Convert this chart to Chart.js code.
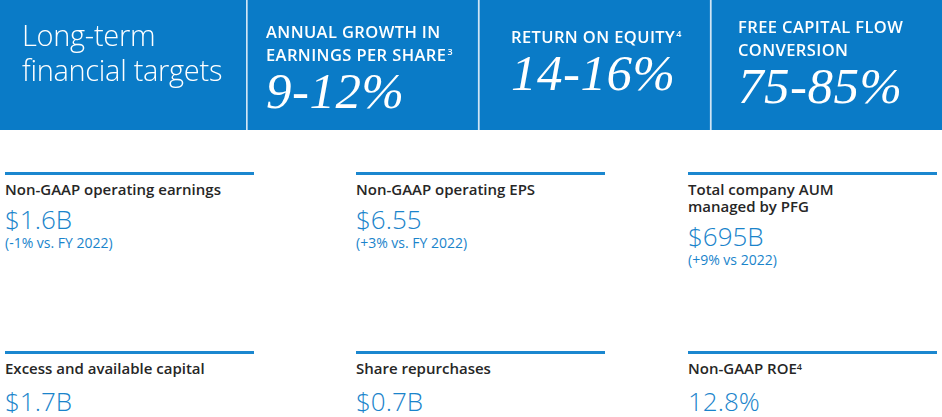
<!DOCTYPE html>
<html><head><meta charset="utf-8">
<script src="https://cdn.jsdelivr.net/npm/chart.js@4.4.1/dist/chart.umd.min.js"></script>
<style>
html,body{margin:0;padding:0}
body{width:942px;height:417px;overflow:hidden;background:#fff;font-family:"Open Sans",Lato,sans-serif;position:relative}
#hdr{position:absolute;left:0;top:0;width:942px;height:130px;background:#0a7bc7}
#title{position:absolute;left:22px;top:17px;color:#fff;font-weight:300;font-size:29px;line-height:35px;letter-spacing:-0.3px;white-space:nowrap}
.tgt{position:absolute;color:#fff;white-space:nowrap}
.tgt .lab{font-weight:600;font-size:16.5px;line-height:23px;letter-spacing:0.4px}
.tgt .lab sup{font-size:9px;vertical-align:top;position:relative;top:-3px;margin-left:1px}
.tgt .val{font-family:"Liberation Serif","DejaVu Serif",serif;font-style:italic;font-size:51px;line-height:48px;margin-top:1px;letter-spacing:0.5px}
.kpi{position:absolute;width:249px;border-top:3px solid #1b87cf;padding-top:6px}
.kpi .lab{font-weight:600;font-size:15px;line-height:17px;color:#262626}
.kpi .lab sup{font-size:9px;vertical-align:top;position:relative;top:-2px}
.kpi .val{font-weight:300;font-size:26px;line-height:30px;color:#1a84cb;margin-top:6px}
.kpi .chg{font-size:14px;line-height:18px;color:#1a84cb}
.row2 .val{margin-top:9px}
</style></head><body>
<div id="hdr"><canvas id="c"></canvas></div>
<div id="title">Long-term<br>financial targets</div>
<div id="targets"></div>
<div id="kpis"></div>
<script>
// ---- data ----
const headerTitle = ['Long-term', 'financial targets'];
const targetTitles = [['ANNUAL GROWTH IN', 'EARNINGS PER SHARE'], ['RETURN ON EQUITY'], ['FREE CAPITAL FLOW', 'CONVERSION']];
const targetNotes = ['3', '4', ''];
const targetLow = [9, 14, 75];
const targetHigh = [12, 16, 85];
const cellFill = [1, 1, 1];

const kpiLabels = [['Non-GAAP operating earnings'], ['Non-GAAP operating EPS'], ['Total company AUM', 'managed by PFG'],
                   ['Excess and available capital'], ['Share repurchases'], ['Non-GAAP ROE']];
const kpiNotes = ['', '', '', '', '', '4'];
const kpiValues = ['$1.6B', '$6.55', '$695B', '$1.7B', '$0.7B', '12.8%'];
const kpiChanges = ['(-1% vs. FY 2022)', '(+3% vs. FY 2022)', '(+9% vs 2022)', '', '', ''];

// ---- layout (not data) ----
const tgtTops = [20, 25, 15];
const tgtInset = [20, 33, 28];
const kpiLefts = [5, 356, 688];
const kpiTops = [172, 351];

document.getElementById('title').innerHTML = headerTitle.join('<br>');

const tWrap = document.getElementById('targets');
const tEls = targetTitles.map((lines, i) => {
  const d = document.createElement('div');
  d.className = 'tgt';
  d.style.top = tgtTops[i] + 'px';
  const last = lines.length - 1;
  d.innerHTML = '<div class="lab">' + lines.map((l, j) => l + (j === last && targetNotes[i] ? '<sup>' + targetNotes[i] + '</sup>' : '')).join('<br>') +
    '</div><div class="val">' + targetLow[i] + '-' + targetHigh[i] + '%</div>';
  tWrap.appendChild(d);
  return d;
});

const kWrap = document.getElementById('kpis');
kpiLabels.forEach((lines, i) => {
  const d = document.createElement('div');
  d.className = 'kpi' + (i >= 3 ? ' row2' : '');
  d.style.left = kpiLefts[i % 3] + 'px';
  d.style.top = kpiTops[Math.floor(i / 3)] + 'px';
  const last = lines.length - 1;
  d.innerHTML = '<div class="lab">' + lines.map((l, j) => l + (j === last && kpiNotes[i] ? '<sup>' + kpiNotes[i] + '</sup>' : '')).join('<br>') +
    '</div><div class="val">' + kpiValues[i] + '</div>' + (kpiChanges[i] ? '<div class="chg">' + kpiChanges[i] + '</div>' : '');
  kWrap.appendChild(d);
});

const placeText = {
  id: 'placeText',
  afterRender(chart) {
    const meta = chart.getDatasetMeta(0);
    meta.data.forEach((bar, i) => {
      const left = bar.x - bar.width / 2;
      tEls[i].style.left = (left + tgtInset[i]) + 'px';
    });
  }
};

new Chart(document.getElementById('c'), {
  type: 'bar',
  data: {
    labels: targetTitles.map(t => t.join(' ')),
    datasets: [{
      data: cellFill,
      backgroundColor: '#0a7bc7',
      borderColor: '#cfe5f5',
      borderWidth: { left: 2, right: 0, top: 0, bottom: 0 },
      borderSkipped: false,
      barPercentage: 1,
      categoryPercentage: 1
    }]
  },
  options: {
    responsive: true,
    maintainAspectRatio: false,
    animation: false,
    layout: { padding: { left: 246, right: 0, top: 0, bottom: 0 } },
    scales: {
      x: { display: false },
      y: { display: false, min: 0, max: 1 }
    },
    plugins: { legend: { display: false }, tooltip: { enabled: false } }
  },
  plugins: [placeText]
});
</script>
</body></html>
